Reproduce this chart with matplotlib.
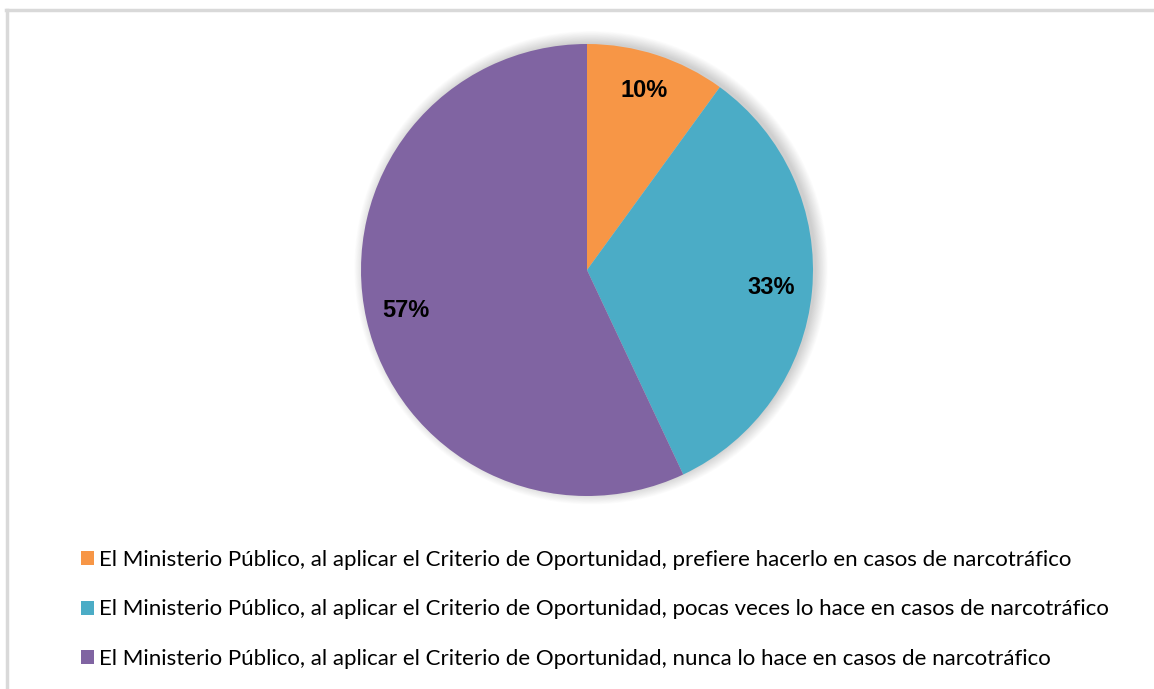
import matplotlib.pyplot as plt
from matplotlib.lines import Line2D
from matplotlib.patches import Circle

labels = [
    "El Ministerio Público, al aplicar el Criterio de Oportunidad, prefiere hacerlo en casos de narcotráfico",
    "El Ministerio Público, al aplicar el Criterio de Oportunidad, pocas veces lo hace en casos de narcotráfico",
    "El Ministerio Público, al aplicar el Criterio de Oportunidad, nunca lo hace en casos de narcotráfico",
]
shares = [10, 33, 57]
colors = ["#F79646", "#4BACC6", "#8064A2"]

W, H = 1154, 689
fig = plt.figure(figsize=(W / 100, H / 100), dpi=100)

# frame: only the top and left edges are inside the canvas
edge = dict(transform=fig.transFigure, color="#D9D9D9", linewidth=2.5)
fig.lines.append(Line2D([6 / W, 1.01], [1 - 9.5 / H] * 2, **edge))
fig.lines.append(Line2D([7 / W] * 2, [-0.01, 1 - 9.5 / H], **edge))

# pie axes: centre (587, 270), radius ~226 px
cx, cy, r = 587, 270, 226
ax = fig.add_axes([(cx - r) / W, (H - cy - r) / H, 2 * r / W, 2 * r / H])
ax.set_aspect("equal")
ax.axis("off")

# soft shadow toward the upper right
for i in range(16):
    ax.add_patch(Circle((0.018, 0.010), 0.995 + i * 0.0035, color="black",
                        alpha=0.010, lw=0, zorder=0, clip_on=False))

wedges, texts, autotexts = ax.pie(
    shares, colors=colors, startangle=90, counterclock=False, radius=1.0,
    autopct="%d%%", pctdistance=0.82,
    textprops=dict(fontsize=17, fontweight="bold", family="Liberation Sans", color="black"),
    wedgeprops=dict(linewidth=0, zorder=1),
)
autotexts[0].set_y(autotexts[0].get_position()[1] + 0.015)
ax.set_xlim(-1, 1)
ax.set_ylim(-1, 1)

leg = fig.legend(wedges, labels, loc="upper left", bbox_to_anchor=(72 / W, 1 - 541 / H),
                 frameon=False, prop=dict(family="Lato", size=16),
                 handlelength=0.6, handleheight=0.6, handletextpad=0.2,
                 labelspacing=1.33, borderaxespad=0)

fig.savefig("out.png", dpi=100)
